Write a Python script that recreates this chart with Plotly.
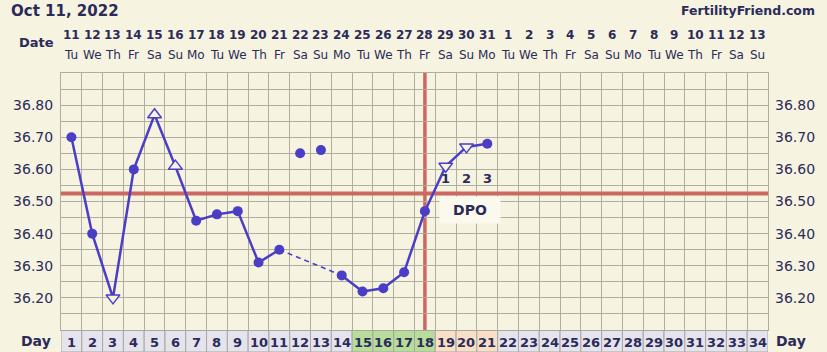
import plotly.graph_objects as go

# ---------------- data ----------------
days = list(range(1, 22))
temps = [36.70, 36.40, 36.20, 36.60, 36.77, 36.61, 36.44, 36.46, 36.47, 36.31,
         36.35, 36.65, 36.66, 36.27, 36.22, 36.23, 36.28, 36.47, 36.61, 36.67, 36.68]
# marker kind per day: c = filled circle, u = open triangle up, d = open triangle down
kinds = ["c", "c", "d", "c", "u", "u", "c", "c", "c", "c",
         "c", "c", "c", "c", "c", "c", "c", "c", "d", "d", "c"]
discarded_days = [12, 13]
coverline = 36.525
ovulation_day = 18
dpo_days = [19, 20, 21]
dpo_labels = ["1", "2", "3"]

date_labels = [str(d) for d in range(11, 32)] + [str(d) for d in range(1, 14)]
weekday_labels = ["Tu", "We", "Th", "Fr", "Sa", "Su", "Mo"] * 5
weekday_labels = weekday_labels[:34]
day_labels = [str(d) for d in range(1, 35)]
green_days = [15, 16, 17, 18]
peach_days = [19, 20, 21]

y_ticks = [round(36.10 + 0.05 * k, 2) for k in range(17)]
y_ticktext = [f"{v:.2f}" if (36.19 < v < 36.81 and abs(round(v * 10) - v * 10) < 1e-6) else "" for v in y_ticks]

# ---------------- style ----------------
W, H = 827, 352
L, R, T, B = 61, 56, 73, 22
PW, PH = W - L - R, H - T - B
BG = "#f6f3e0"
GRID = "#b0ae9f"
BLUE = "#4a3ec6"
RED = "#cc6862"
NAVY = "#2b2b5a"
FONT = "DejaVu Sans"


def px_x(px):
    return (px - L) / PW


def px_y(py):
    return (H - B - py) / PH


fig = go.Figure()

# connecting lines
def seg(d_from, d_to, dash="solid", width=2.5):
    xs = [d for d in days if d_from <= d <= d_to and d not in discarded_days]
    ys = [temps[d - 1] for d in xs]
    fig.add_trace(go.Scatter(x=xs, y=ys, mode="lines",
                             line=dict(color=BLUE, width=width, dash=dash),
                             hoverinfo="skip", showlegend=False))

seg(1, 11)
fig.add_trace(go.Scatter(x=[11, 14], y=[temps[10], temps[13]], mode="lines",
                         line=dict(color=BLUE, width=1.6, dash="5px,4px"),
                         hoverinfo="skip", showlegend=False))
seg(14, 21)

# markers
cx = [d for d, k in zip(days, kinds) if k == "c"]
fig.add_trace(go.Scatter(x=cx, y=[temps[d - 1] for d in cx], mode="markers",
                         marker=dict(symbol="circle", size=10, color=BLUE),
                         showlegend=False))
ux = [d for d, k in zip(days, kinds) if k == "u"]
fig.add_trace(go.Scatter(x=ux, y=[temps[d - 1] for d in ux], mode="markers",
                         marker=dict(symbol="triangle-up", size=12, color=BG,
                                     line=dict(color=BLUE, width=1.5)),
                         showlegend=False))
dx = [d for d, k in zip(days, kinds) if k == "d"]
fig.add_trace(go.Scatter(x=dx, y=[temps[d - 1] for d in dx], mode="markers",
                         marker=dict(symbol="triangle-down", size=12, color=BG,
                                     line=dict(color=BLUE, width=1.5)),
                         showlegend=False))

# dummy trace for right axis
fig.add_trace(go.Scatter(x=[None], y=[None], yaxis="y2", showlegend=False))

shapes = []
# coverline and ovulation line
shapes.append(dict(type="line", xref="x", yref="y", x0=0.5, x1=34.5, y0=coverline, y1=coverline,
                   line=dict(color=RED, width=4), layer="between"))
shapes.append(dict(type="line", xref="x", yref="paper", x0=ovulation_day, x1=ovulation_day, y0=0, y1=1,
                   line=dict(color=RED, width=3.5), layer="between"))

# day row cells
for i in range(1, 35):
    col = "#e5e3ec"
    if i in green_days:
        col = "#b8dc9a"
    elif i in peach_days:
        col = "#f8dfc6"
    shapes.append(dict(type="rect", xref="x", yref="paper", x0=i - 0.5, x1=i + 0.5,
                       y0=px_y(352), y1=px_y(330.5), fillcolor=col,
                       line=dict(color="#a9a8a0", width=1), layer="above"))

annotations = []
annotations.append(dict(text="<b>Oct 11, 2022</b>", xref="paper", yref="paper", x=px_x(9), y=px_y(11),
                        xanchor="left", yanchor="middle", showarrow=False,
                        font=dict(family=FONT, size=15, color=NAVY)))
annotations.append(dict(text="<b>FertilityFriend.com</b>", xref="paper", yref="paper", x=px_x(820), y=px_y(11),
                        xanchor="right", yanchor="middle", showarrow=False,
                        font=dict(family=FONT, size=12.5, color=NAVY)))
annotations.append(dict(text="<b>Date</b>", xref="paper", yref="paper", x=px_x(56), y=px_y(43),
                        xanchor="right", yanchor="middle", showarrow=False,
                        font=dict(family=FONT, size=13, color=NAVY)))
for i in range(34):
    annotations.append(dict(text=f"<b>{date_labels[i]}</b>", xref="x", yref="paper", x=i + 1, y=px_y(35),
                            xanchor="center", yanchor="middle", showarrow=False,
                            font=dict(family=FONT, size=12, color=NAVY)))
    annotations.append(dict(text=weekday_labels[i], xref="x", yref="paper", x=i + 1, y=px_y(55),
                            xanchor="center", yanchor="middle", showarrow=False,
                            font=dict(family=FONT, size=12, color=NAVY)))
    annotations.append(dict(text=f"<b>{day_labels[i]}</b>", xref="x", yref="paper", x=i + 1, y=px_y(342),
                            xanchor="center", yanchor="middle", showarrow=False,
                            font=dict(family=FONT, size=13, color=NAVY)))
annotations.append(dict(text="<b>Day</b>", xref="paper", yref="paper", x=px_x(53), y=px_y(341),
                        xanchor="right", yanchor="middle", showarrow=False,
                        font=dict(family=FONT, size=14, color=NAVY)))
annotations.append(dict(text="<b>Day</b>", xref="paper", yref="paper", x=px_x(777), y=px_y(341),
                        xanchor="left", yanchor="middle", showarrow=False,
                        font=dict(family=FONT, size=14, color=NAVY)))
for d, t in zip(dpo_days, dpo_labels):
    annotations.append(dict(text=f"<b>{t}</b>", xref="x", yref="y", x=d, y=36.572,
                            xanchor="center", yanchor="middle", showarrow=False,
                            font=dict(family=FONT, size=13, color=NAVY)))
annotations.append(dict(text="<b>DPO</b>", xref="x", yref="y", x=20.15, y=36.475,
                        xanchor="center", yanchor="middle", showarrow=False,
                        bgcolor="#fbf9ee", borderpad=5, width=50,
                        font=dict(family=FONT, size=14, color=NAVY)))

axis_common = dict(range=[36.10, 36.90], tickvals=y_ticks, ticktext=y_ticktext,
                   tickfont=dict(family=FONT, size=14, color=NAVY), ticks="",
                   zeroline=False, fixedrange=True)

fig.update_layout(
    width=W, height=H,
    margin=dict(l=L, r=R, t=T, b=B, pad=0),
    paper_bgcolor=BG, plot_bgcolor=BG,
    showlegend=False,
    xaxis=dict(range=[0.5, 34.5], tickvals=[k + 0.5 for k in range(35)], showticklabels=False,
               ticks="", showgrid=True, gridcolor=GRID, gridwidth=1, zeroline=False,
               showline=True, linecolor=GRID, mirror=True),
    yaxis=dict(**axis_common, showgrid=True, gridcolor=GRID, gridwidth=1,
               showline=True, linecolor=GRID, mirror=True, ticklabelstandoff=4),
    yaxis2=dict(**axis_common, overlaying="y", side="right", showgrid=False, showline=False,
                ticklabelstandoff=6),
    shapes=shapes,
    annotations=annotations,
)

fig.write_html("out.html")
